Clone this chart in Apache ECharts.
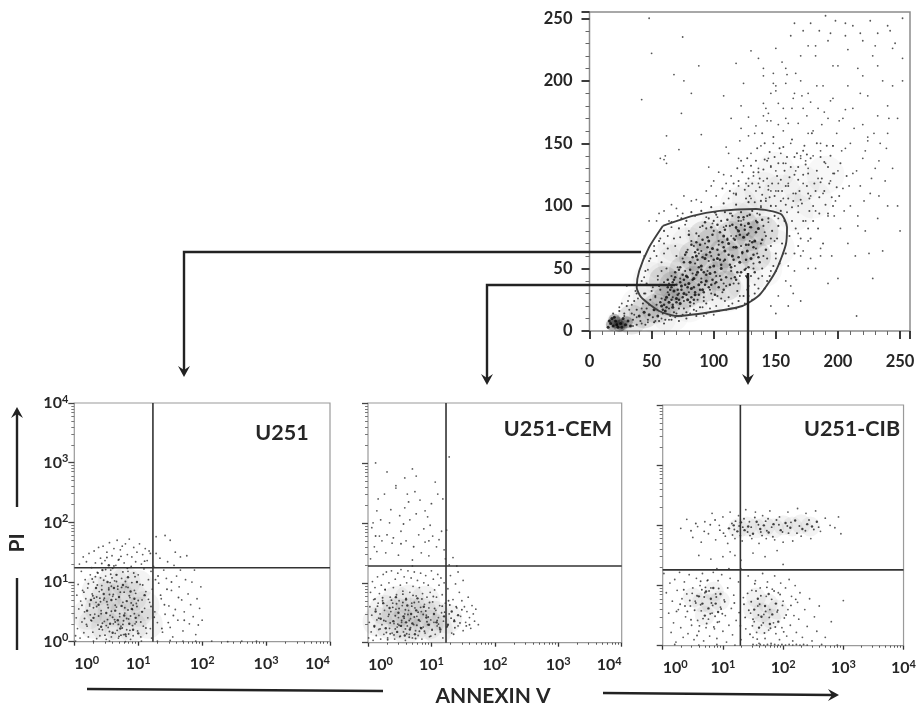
<!DOCTYPE html>
<html><head><meta charset="utf-8">
<style>html,body{margin:0;padding:0;background:#fff}#c{width:919px;height:706px;filter:blur(0.35px)}</style>
<script src="https://cdn.jsdelivr.net/npm/echarts@6/dist/echarts.min.js"></script></head>
<body><div id="c"></div>
<script>
// Flat x,y lists. Main plot: channel units 0-255.
const mainBlob=[18,5,22,7,26,5,30,7,20,9,24,4];
const mainShade=[34,9,44,14,54,18,62,24,70,22,68,36,78,30,84,40,76,48,90,34,92,50,84,60,100,54,98,70,108,62,116,56,114,76,124,66,130,76,134,60,104,44,124,84,92,76,60,40,110,36,140,80];
const mainHaze=[40,20,50,26,60,40,70,55,80,68,92,80,105,85,118,88,132,90,146,84,150,66,140,50,125,40,110,30,95,28,80,22,65,14,55,12,70,70,60,55,50,40,155,110,140,112,170,118,180,105,130,105,165,95,120,100,190,125,150,128];
const mainCore=[15,3,17,6,19,4,21,8,23,3,25,6,27,10,29,5,18,10,16,8,31,8,33,4,22,5,26,3,20,11,40,12,44,15,48,13,52,17,55,12,58,20,61,16,64,23,67,19,70,26,62,27,73,22,76,30,79,25,82,34,85,29,88,37,80,38,91,33,84,42,94,40,87,47,78,44,90,52,97,46,100,52,93,58,86,60,103,58,106,50,109,64,99,66,112,70,115,60,118,67,121,55,124,75,127,64,130,58,133,72,120,80,108,76,136,82,128,86,96,72,81,55,74,36,68,32];
const mainMid=[35,9,38,17,41,8,43,22,46,18,47,9,49,25,51,11,53,28,54,21,56,8,57,33,59,14,60,39,61,9,63,31,65,12,66,44,67,27,68,15,69,37,71,51,72,18,73,42,74,12,75,58,76,24,77,48,78,15,79,65,80,31,81,20,82,72,83,46,84,17,85,54,86,78,87,25,88,62,89,19,90,42,91,84,92,27,93,70,94,22,95,48,96,90,97,33,98,60,99,25,100,80,101,38,102,93,103,28,104,69,105,44,106,88,107,31,108,56,109,95,110,36,111,74,112,27,113,84,114,48,115,92,116,38,117,52,118,76,119,32,120,88,121,44,122,95,123,62,124,28,125,84,126,50,127,92,128,36,129,72,130,44,131,96,132,54,133,30,134,88,135,62,136,42,137,93,138,70,139,50,140,84,141,34,142,76,143,58,144,90,145,44,146,68,147,80,148,52,149,92,150,62,151,74,152,84,153,54,155,70,157,88,158,62,154,96,146,100,138,104,128,103,118,101,108,102,98,99,90,96,82,95,74,90,66,87,60,80,56,72,52,64,48,56,45,48,42,40,38,30,36,24,34,14,30,20,28,14,24,16,38,5,45,5,52,7,60,6,66,9,72,8,78,10,86,12,94,14,104,16,112,20,120,24,128,28,136,34,143,40,150,48,55,44,58,55,63,66,68,74,72,82,78,88,88,76,94,82,100,88,84,68,70,60,62,50,56,36,64,38,72,30,90,64,96,56,104,72,110,84,116,74,122,68,128,78,134,66,140,60,146,74,114,42,108,38,102,44,98,30,120,38,126,44,132,50,106,26,92,24,84,22,76,18,70,14,64,18,58,26,50,32,46,38,44,30];
const mainDense=[83,41,97,63,71,33,109,57,88,29,126,69,64,29,101,47,77,61,118,83,93,37,57,23,113,53,86,71,132,61,69,47,105,79,122,47,91,59,75,27,139,73,81,49,99,41,116,67,62,19,128,51,95,75,73,39,108,33,87,57,124,91,66,35,103,65,79,43,135,87,92,31,59,17,111,89,84,35,120,59,98,83,70,23,127,43,89,69,106,53,76,55,142,65,94,45,63,41,117,73,82,27,101,95,125,81,72,49,113,37,90,39,131,71,67,21,104,61,80,77,137,55,96,35,61,25,119,47,85,63,110,43,74,33,129,93,93,87,68,41,107,71,83,59,123,63,78,29,100,57,115,85,88,51,133,47,65,33,102,39,77,37,121,77,95,67,71,29,112,61,86,45,126,57,97,51,69,43,109,81,81,23,134,79,91,73,60,21,118,41,104,35,75,45,128,69,89,33,99,77,116,57,84,25,122,85,73,51,106,41,139,89,94,61,66,25,111,73,79,35,130,83,87,65,101,29,114,51,76,41,125,49,92,47,63,35,108,67,82,69,136,59,98,37,70,37,120,91,85,31,103,85,117,43,72,25,127,77,90,49,67,39,105,57,78,63,132,67];
const mainLow=[19,14,24,19,28,12,32,17,36,13,34,21,39,26,42,18,37,32,31,24,45,30,41,37,48,21,44,43,51,35,47,49,53,27,49,58,55,41,52,68,58,48,54,60,60,62,57,74,63,76,60,70,66,83,69,68,64,88,71,92,73,75,77,85,75,94,80,80,85,92,89,83,94,91,99,86,103,91,108,83,113,94,119,81,124,89,129,83,135,94,141,79,144,87,149,72,152,90,150,58,146,48,139,44,133,37,127,33,121,28,115,22,109,24,102,20,97,18,91,19,86,16,81,14,75,13,69,11,64,9,58,10,53,8,47,7,42,6,35,4,38,11,125,22,131,25,118,18,110,17,100,13,92,12];
const mainUpper=[147,118,133,103,162,131,118,109,176,126,154,104,141,137,169,112,128,122,186,139,158,116,136,127,172,144,149,108,181,118,125,113,165,139,143,122,192,131,156,147,131,118,177,106,139,109,168,121,152,134,189,112,123,127,160,106,145,143,174,133,137,115,183,150,151,124,129,108,171,102,194,140,163,153,140,129,178,138,155,112,134,136,187,122,148,155,166,110,120,120,197,126,159,139,142,104,175,116,130,132,185,107,153,146,168,131,144,113,179,158,127,138,161,123,191,148,138,99,172,125,150,100,183,128,135,146,164,104,146,131,199,115,116,118,157,128,176,110,141,150,189,135,126,106,167,142,154,121,180,100,132,127,195,107,160,116,143,136,173,148,113,112,186,119,149,139,163,99,137,122,202,134,170,105,122,136,156,134,182,112,145,107,175,141,128,116,165,125,193,118,107,114,152,112,119,130,139,158,177,96,190,101,158,101,168,95,180,88,172,88,163,88,185,94,176,82,166,82,159,95,170,74,161,76,184,82,192,94,201,108,207,124,196,100,178,74,168,68,188,70,165,62,156,62];
const mainFar=[128,171,140,182,152,165,163,178,175,172,187,165,199,158,210,150,222,144,233,136,148,198,159,205,171,188,183,196,194,184,206,177,218,190,229,158,241,170,196,212,208,225,220,204,232,212,244,196,170,220,182,228,194,238,206,246,218,238,230,228,242,240,189,175,201,168,213,162,178,183,165,190,156,178,143,168,133,158,121,152,110,147,203,144,215,128,227,122,239,146,209,116,221,104,233,108,197,92,205,96,216,84,225,62,240,100,186,60,176,50];
const mainSparse=[62,134,60,137,57,138,42,185,74,174,72,145,90,157,96,131,61,140,122,180,120,138,118,110,112,142,108,125,104,127,98,116,94,112,90,103,86,105,82,104,76,108,70,98,66,101,60,96,56,94,54,88,48,88,44,60,30,36,32,28,26,22,100,120,102,108,110,118,114,124,120,116,124,132,126,118,130,142,132,124,134,112,138,148,136,130,140,120,144,138,142,106,146,112,150,128,148,150,152,118,154,142,156,106,158,134,160,118,162,150,164,110,166,128,168,100,170,140,172,118,174,88,176,130,178,108,180,140,182,96,184,122,186,150,188,110,190,134,192,92,194,120,196,148,198,104,200,128,202,82,204,114,206,146,208,70,210,100,212,126,214,60,216,92,218,116,220,138,222,80,224,155,226,110,228,42,230,130,232,90,234,150,236,64,238,120,240,158,244,130,248,100,250,80,170,60,165,48,160,52,176,72,168,78,172,64,178,58,182,50,186,66,192,38,195,60,200,42,162,36,158,40,164,30,170,24,152,28,146,20,150,14,160,20,215,12,168,166,172,178,158,170,164,186,176,190,170,200,180,160,184,178,188,196,192,170,196,186,200,212,204,170,208,196,212,178,216,210,220,165,224,188,228,220,232,172,236,200,240,180,244,226,248,170,252,200,150,192,146,168,140,172,134,164,128,156,124,198,118,214,114,170,122,162,140,210,155,215,162,236,176,228,182,220,165,246,172,240,185,240,192,232,198,248,206,236,212,244,220,232,226,248,232,238,240,244,246,230,252,250,252,218,148,206,130,224,166,206,178,246,190,252,150,196,108,188,142,178,82,190,76,200,68,205,88,212,50,222,75,235,48,250,62,156,156,160,160,166,144,174,152,182,146,190,158,198,140,204,158,210,136,218,150,226,170,138,186,144,224,152,176,158,196,126,144,116,150,112,130,106,138,100,112,106,114,94,122,88,118,82,114,76,116,110,136,118,146,132,174,136,196,148,184];
// Bottom plots: axis is hundredths of a decade (100 = 10^1).
const u251Shade=[30,30,50,25,70,25,90,25,40,55,60,50,80,50,100,50,50,75,70,75,90,75,110,60,60,100,80,100,100,95,35,85,20,45,115,30];
const u251Core=[30,40,38,62,42,25,46,80,50,48,52,100,56,30,58,70,60,15,62,90,64,52,66,112,68,36,70,75,72,22,74,60,76,95,78,44,80,12,82,68,84,108,86,30,88,84,90,55,92,20,94,72,96,40,98,100,44,120,54,128,34,90,26,70,20,52,100,14,106,50,110,78];
const u251Pts=[2,10,3,40,4,78,5,22,6,96,7,55,8,130,9,6,10,68,11,118,12,33,13,86,14,142,15,15,16,50,17,104,18,72,19,134,20,26,21,90,22,8,23,148,24,60,25,112,26,36,27,124,28,80,29,16,30,100,31,152,32,46,33,132,34,66,35,5,36,116,37,28,38,158,39,84,40,10,41,140,42,52,43,94,44,20,45,160,46,70,47,34,48,136,49,110,50,4,51,150,52,62,53,24,54,90,55,166,56,44,57,120,58,8,59,144,60,76,61,30,62,156,63,102,64,14,65,128,66,58,67,170,68,88,69,6,70,138,71,42,72,154,73,26,74,106,75,160,76,66,77,12,78,132,79,48,80,164,81,92,82,20,83,146,84,118,85,38,86,172,87,74,88,4,89,126,90,142,91,54,92,10,93,158,94,86,95,30,96,134,97,64,98,150,99,18,100,112,101,44,102,164,103,96,104,8,105,130,106,70,107,146,108,26,109,122,110,56,111,156,112,84,113,14,114,136,115,40,116,104,117,152,118,66,119,22,120,118,121,6,122,88,124,126,126,50,128,148,130,32,132,98,134,140,136,72,138,16,140,120,142,46,144,106,146,134,148,60,150,24,152,86,154,8,156,128,158,54,160,110,162,36,164,92,166,120,168,70,170,18,172,50,174,104,176,144,178,80,180,30,182,62,184,100,186,42,188,120,190,12,192,72,194,28,196,56,198,92,200,36,158,150,166,142,150,170,142,178,128,176,2,1,30,1,55,1,80,0,105,1,130,1,150,2,170,1,190,1,215,1,240,0,262,1,285,1];
const u251More=[47,73,63,37,35,59,78,83,55,17,92,61,41,107,69,29,84,53,29,77,58,93,73,11,97,33,51,67,66,101,38,43,87,19,61,79,44,31,76,117,24,63,94,47,57,113,70,9,36,95,82,39,49,121,65,71,90,99,27,35,53,57,75,23,43,87,100,69,60,41,85,13,33,109,72,83,19,29,56,99,88,43,41,67,67,19,95,109,48,11,79,57,31,73,62,127,52,37,74,91,39,21,86,77,15,83,58,51,77,35,46,103,69,137,55,79,91,27,25,45,64,61,83,123,37,115,71,47,96,81,50,27,81,9,43,131,59,107,22,97,89,65,12,61,68,93,35,75,76,29,54,87,98,59,42,47,60,123,84,91,30,57,73,143,16,39,51,141,64,33,93,115,40,73,80,101,28,105,104,33,112,23,116,71,125,41,107,95,120,59,135,78,147,32,131,110,141,62,152,100,163,74,110,135,127,104,145,88,172,36,119,148,137,22,155,44];
const cemShade=[15,35,35,30,55,30,75,30,95,30,25,55,45,50,65,50,85,50,105,45,125,40,45,70,65,72,90,70,60,22,110,22];
const cemCore=[20,40,28,24,34,58,40,36,46,18,48,50,52,28,56,44,58,12,60,34,62,62,66,22,68,48,70,32,74,14,76,54,80,38,84,24,88,60,92,42,96,30,104,48,108,34,114,22,120,44,126,30,132,52,136,36,142,46,60,72,44,76,78,74,24,66,12,52,10,28];
const cemPts=[1,8,2,34,3,60,4,84,5,18,6,46,7,102,8,4,9,72,10,26,11,92,12,56,13,12,14,38,15,110,16,66,17,22,18,82,19,48,20,6,21,96,22,30,23,70,24,114,25,14,26,54,27,88,28,36,29,118,30,62,31,8,32,44,33,100,34,24,35,76,36,52,37,120,38,16,39,66,40,92,41,32,42,6,43,106,44,56,45,80,46,26,47,116,48,42,49,70,50,10,51,96,52,122,53,34,54,62,55,86,56,18,57,110,58,48,59,4,60,74,61,100,62,28,63,120,64,54,65,14,66,84,67,40,68,108,69,66,70,8,71,94,72,30,73,118,74,58,75,20,76,78,77,44,78,104,79,12,80,68,81,92,82,36,83,116,84,52,85,6,86,82,87,26,88,100,89,64,90,16,91,112,92,46,93,76,94,30,95,96,96,58,97,10,98,84,99,38,100,120,101,22,102,68,103,106,104,34,105,88,106,14,107,54,108,76,109,28,110,114,111,42,112,96,113,62,114,18,115,108,116,50,117,80,118,8,119,36,120,100,122,66,124,26,126,90,128,48,130,112,132,16,134,72,136,38,138,98,140,58,142,28,144,84,146,44,148,70,150,20,152,60,154,34,156,52,158,76,160,42,162,24,164,62,166,48,168,36,170,56,174,30,150,104,142,118,128,130,122,140,134,142,140,128,120,155,108,160,96,145,84,150,70,138,60,170,48,146,38,166,28,150,18,178,10,160,6,192,4,140,14,220,26,248,34,200,44,262,52,186,58,225,66,205,74,252,80,180,90,220,98,196,106,268,112,172,118,240,124,188,70,290,58,275,30,285,44,258,82,238,94,210,36,222,22,170,102,178,110,248,50,212,62,248,16,240,8,200,12,300,76,278,128,310,116,186,90,168,14,152,70,128,-12,210];
const cemMore=[47,31,73,43,29,17,91,53,55,67,17,41,83,25,39,59,65,37,101,21,51,11,77,29,33,47,109,37,59,23,87,47,23,75,69,61,43,23,97,67,61,15,125,27,81,19,35,33,117,61,49,57,71,79,15,61,93,35,57,41,129,63,41,13,75,7,27,89,105,57,63,47,85,73,37,71,113,25,53,37,99,11,31,5,79,51,67,25,121,51,45,65,89,19,25,37,137,25,55,81,73,67,19,23,103,77,43,45,131,41,65,9,95,43,59,55,11,73,83,59,35,15,111,31,49,29,145,33,127,70,139,60,148,55,155,28,135,14,160,30,30,180,56,198,76,215,100,232,20,205,40,175,64,235,88,190,12,178,52,165,72,160,96,170];
const cibShade=[125,195,140,198,155,195,170,198,185,195,200,200,215,198,230,202,245,198,50,80,65,72,80,70,95,75,70,50,85,90,150,60,165,55,175,70,155,80,180,45,165,35,190,60];
const cibCore=[110,195,118,200,124,190,130,205,136,192,142,198,150,186,156,206,162,194,168,200,176,188,184,202,196,192,204,204,212,196,220,208,232,194,240,202,248,198,256,206,60,82,66,70,72,90,76,62,80,78,84,96,88,70,92,56,70,50,96,86,152,60,158,78,164,48,170,66,176,86,182,52,188,70,178,36,160,30,192,40];
const cibPts=[30,195,40,210,50,180,58,198,64,172,70,206,76,186,82,220,88,176,94,200,100,214,104,182,108,170,112,222,116,184,120,178,126,216,132,174,138,226,144,206,148,178,154,222,160,170,166,216,172,178,178,224,186,176,194,214,200,172,208,222,216,174,224,228,230,182,238,220,246,178,254,224,262,190,270,212,278,200,286,196,292,214,296,186,60,150,80,144,100,148,112,156,120,150,130,142,150,154,170,148,190,158,200,135,90,128,110,128,130,128,2,120,6,88,10,54,12,104,14,22,16,74,18,38,20,110,22,6,24,92,26,60,28,122,30,30,32,78,34,14,36,106,38,48,40,86,42,20,44,118,46,66,48,34,50,96,52,10,54,74,56,112,58,42,60,24,62,100,64,58,66,120,68,8,70,88,72,30,74,108,76,44,78,16,80,96,82,54,84,122,86,28,88,86,90,12,92,108,94,40,96,64,98,118,100,24,102,76,104,50,106,6,108,96,110,34,112,112,114,62,116,18,118,84,122,42,126,106,130,10,134,80,138,28,142,116,146,54,148,92,150,14,152,40,154,108,156,22,158,66,160,4,162,96,164,34,166,120,168,52,170,12,172,82,174,106,176,26,178,60,180,4,182,94,184,38,186,116,188,20,190,56,192,88,194,10,196,104,198,30,200,74,202,46,204,96,206,16,208,60,210,110,212,34,214,82,216,8,218,50,220,100,222,22,224,72,226,44,228,88,232,14,236,60,240,32,244,78,248,8,252,48,256,24,260,66,270,14,280,40,300,75,150,2,156,1,162,2,168,1,174,2,180,1,186,2,192,1,198,2,204,1,210,2,216,1,222,2,228,1,234,2,240,1,20,2,60,1,90,2,120,1,264,2,290,1];
const cibMore=[147,197,173,191,129,183,207,199,159,201,189,209,135,211,223,187,119,193,243,209,165,183,199,189,141,189,213,205,153,213,181,197,127,199,237,191,171,207,193,201,115,203,227,199,145,183,259,197,175,211,209,187,133,197,251,193,163,189,183,181,121,207,95,192,79,201,69,190,87,209,101,187,55,203,47,191,63,68,77,91,53,59,83,67,71,97,89,81,45,75,97,61,57,83,67,45,79,53,37,66,93,95,61,33,75,109,49,87,87,49,65,93,41,57,73,37,55,71,35,93,81,71,103,73,23,57,63,107,47,43,69,81,85,31,29,69,91,39,57,17,99,53,150,44,161,69,171,57,147,73,181,77,155,91,167,38,191,59,177,47,143,59,159,51,185,91,149,33,173,97,199,67,141,87,163,83,205,51,137,47,153,103,179,29,195,85,135,69,169,21,213,67,145,19,187,31,127,55,221,77,129,33,201,23,157,11,119,71];
// Gates and quadrant lines, in each plot's own units.
const mainGate=[[59,84],[48,67],[40,48],[38,35],[41.5,27],[56,16],[70,12],[96.5,15],[123,20],[137,29],[150,48],[158,69],[159,83],[154,93.5],[134,97.5],[104.5,96],[83,92],[59,84]];
const quadrants={u251:[123,124],cem:[123,128],cib:[129,126]};
const mainTicks=[0,50,100,150,200,250];
const minorDecades=[30,48,60,70,78,85,90,95,130,148,160,170,178,185,190,195,230,248,260,270,278,285,290,295,330,348,360,370,378,385,390,395];
const panelNames=['U251','U251-CEM','U251-CIB'];

const pairs=f=>{const o=[];for(let i=0;i<f.length;i+=2)o.push([f[i],f[i+1]]);return o;};
const FONT='Lato, "Open Sans", sans-serif', INK='#262626';
const pow=v=>'{a|10}{s|'+(v/100)+'}';
const rich={a:{fontFamily:FONT,fontWeight:'bold',fontSize:16,color:INK},s:{fontFamily:FONT,fontWeight:'bold',fontSize:11,color:INK,padding:[0,0,8,0]}};
const grids=[],xAxes=[],yAxes=[],series=[];
function dots(gi,list,size,color,soft){series.push({type:'scatter',xAxisIndex:gi.x,yAxisIndex:gi.y,data:pairs(list),symbolSize:size,itemStyle:soft?{color:color,shadowBlur:soft,shadowColor:color}:{color:color},silent:true,clip:true,z:2});}
const mainLabel=m=>({fontFamily:FONT,fontWeight:'bold',fontSize:16.5,color:INK,margin:m,customValues:mainTicks});

grids.push({left:589.5,top:12,width:320.5,height:319,show:true,borderColor:'#8c8c8c',borderWidth:1.5,backgroundColor:'#fff'});
const mainAxis=(o)=>Object.assign({gridIndex:0,type:'value',min:0,interval:50,splitLine:{show:false},
  axisLine:{show:false},
  axisTick:{show:true,length:8,lineStyle:{color:INK,width:1.8}},
  minorTick:{show:true,splitNumber:5,length:4,lineStyle:{color:'#666',width:1}}},o);
xAxes.push(mainAxis({max:258,axisLabel:mainLabel(22)}));
yAxes.push(mainAxis({max:255,axisLabel:mainLabel(17)}));
const M={x:0,y:0};
dots(M,mainHaze,38,'rgba(0,0,0,0.035)',14);
dots(M,mainShade,30,'rgba(0,0,0,0.11)',12);
dots(M,mainBlob,12,'rgba(0,0,0,0.3)',3);
dots(M,mainSparse,1.8,'#2a2a2a');
dots(M,mainFar,1.8,'#2a2a2a');
dots(M,mainUpper,2,'#222');
dots(M,mainLow,1.9,'#222');
dots(M,mainMid,2.1,'#151515');
dots(M,mainDense,2.5,'#0a0a0a');
dots(M,mainCore,3,'#050505');
series.push({type:'line',xAxisIndex:0,yAxisIndex:0,data:mainGate,smooth:0.22,showSymbol:false,silent:true,lineStyle:{color:'#3f3f3f',width:1.9},z:4});

const boxes=[[74.3,403,255.7,238.7],[368,403,253.7,239.7],[662.7,405,246.6,240.7]];
const clouds=[[u251Shade,u251Pts,u251More,u251Core],[cemShade,cemPts,cemMore,cemCore],[cibShade,cibPts,cibMore,cibCore]];
const shadeSize=[30,30,20];
const quadKeys=['u251','cem','cib'];
boxes.forEach((b,i)=>{
  const g=grids.length;
  grids.push({left:b[0],top:b[1],width:b[2],height:b[3],show:true,borderColor:'#9a9a9a',borderWidth:1.2,backgroundColor:'#fff'});
  const base={gridIndex:g,type:'value',min:0,max:400,splitLine:{show:false},axisLine:{show:false}};
  const xi=xAxes.length, yi=yAxes.length;
  xAxes.push(Object.assign({},base,{position:'bottom',interval:100,axisTick:{length:4,lineStyle:{color:'#333',width:1.3}},
    axisLabel:{formatter:pow,rich:rich,margin:13,alignMinLabel:'left',alignMaxLabel:i===2?'center':'right'}}));
  xAxes.push(Object.assign({},base,{position:'bottom',axisTick:{length:2,customValues:minorDecades,lineStyle:{color:'#555',width:1}},axisLabel:{show:false}}));
  yAxes.push(Object.assign({},base,{position:'left',interval:100,axisTick:{length:6,lineStyle:{color:'#444',width:1.3}},
    axisLabel:{show:i===0,formatter:pow,rich:rich,margin:6}}));
  yAxes.push(Object.assign({},base,{position:'left',axisTick:{length:3,customValues:minorDecades,lineStyle:{color:'#777',width:1}},axisLabel:{show:false}}));
  const P={x:xi,y:yi};
  dots(P,clouds[i][0],shadeSize[i],'rgba(0,0,0,0.06)',10);
  dots(P,clouds[i][1],1.8,'#333');
  dots(P,clouds[i][2],1.9,'#222');
  dots(P,clouds[i][3],2.4,'#151515');
  const q=quadrants[quadKeys[i]];
  series.push({type:'line',xAxisIndex:xi,yAxisIndex:yi,data:[[q[0],0],[q[0],400]],showSymbol:false,silent:true,lineStyle:{color:'#333',width:1.6},z:4});
  series.push({type:'line',xAxisIndex:xi,yAxisIndex:yi,data:[[0,q[1]],[400,q[1]]],showSymbol:false,silent:true,lineStyle:{color:'#333',width:1.6},z:4});
});

const ln=(pts,w)=>({type:'polyline',shape:{points:pts},style:{stroke:'#222',lineWidth:w||2.4,fill:null},z:20,silent:true});
const head=(x,y,dx,dy)=>({type:'polygon',shape:{points:[[x,y],[x-dy*6-dx*11,y+dx*6-dy*11],[x-dx*7,y-dy*7],[x+dy*6-dx*11,y-dx*6-dy*11]]},style:{fill:'#222'},z:20,silent:true});
const txt=(x,y,t,s,rot)=>({type:'text',x:x,y:y,rotation:rot||0,style:{text:t,fontFamily:FONT,fontWeight:'bold',fontSize:s,fill:INK,align:'center',verticalAlign:'middle'},z:20,silent:true});
const graphic=[
  ln([[641,252],[184,252],[184,370]]),head(184,377,0,1),
  ln([[675,285],[487,285],[487,378]]),head(487,385,0,1),
  ln([[748,273],[748,378]]),head(748,385,0,1),
  ln([[87,689],[383,691]]),ln([[603,693],[832,695]]),head(839,695,1,0),
  ln([[17,507],[17,414]]),head(17,407,0,-1),ln([[17,578],[17,650]]),
  txt(282,433,panelNames[0],21.5),txt(558,429,panelNames[1],21.5),txt(852,429,panelNames[2],21.5),
  txt(493,696,'ANNEXIN V',21),txt(17,543,'PI',21,Math.PI/2)
];
const chart=echarts.init(document.getElementById('c'),null,{renderer:'canvas'});
chart.setOption({animation:false,backgroundColor:'#fff',grid:grids,xAxis:xAxes,yAxis:yAxes,series:series,graphic:graphic});
</script></body></html>
